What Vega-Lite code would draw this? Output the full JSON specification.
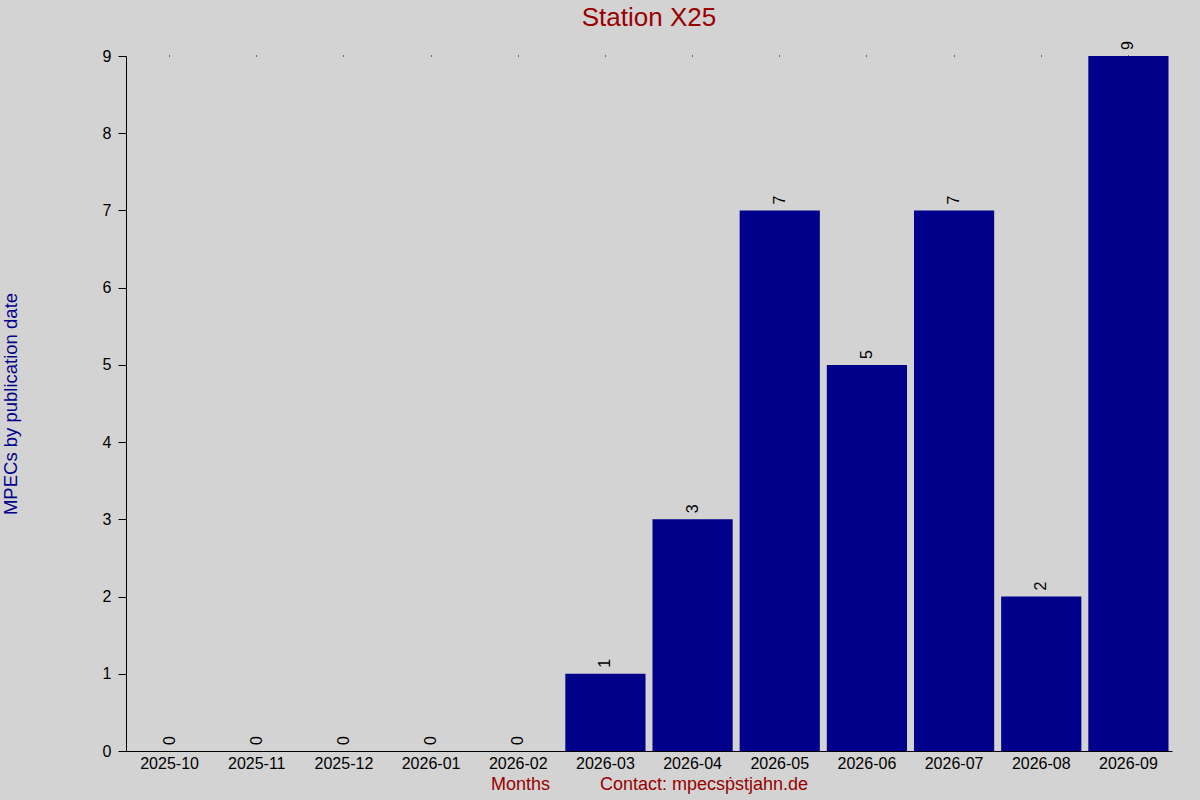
{
  "$schema": "https://vega.github.io/schema/vega-lite/v6.json",
  "autosize": "none",
  "width": 1046,
  "height": 695,
  "padding": {"left": 126, "top": 56, "right": 28, "bottom": 49},
  "background": "#d3d3d3",
  "config": {
    "font": "Liberation Sans",
    "view": {"stroke": null},
    "axis": {"domainColor": "#000000", "tickColor": "#000000", "labelColor": "#000000", "grid": false, "labelFont": "Liberation Sans", "titleFont": "Liberation Sans"}
  },
  "title": {"text": "Station X25", "fontSize": 26, "fontWeight": "normal", "color": "#990000", "anchor": "middle", "frame": "group", "offset": 10, "font": "Liberation Sans"},
  "data": {
    "values": [
      {"month": "2025-10", "count": 0},
      {"month": "2025-11", "count": 0},
      {"month": "2025-12", "count": 0},
      {"month": "2026-01", "count": 0},
      {"month": "2026-02", "count": 0},
      {"month": "2026-03", "count": 1},
      {"month": "2026-04", "count": 3},
      {"month": "2026-05", "count": 7},
      {"month": "2026-06", "count": 5},
      {"month": "2026-07", "count": 7},
      {"month": "2026-08", "count": 2},
      {"month": "2026-09", "count": 9}
    ]
  },
  "layer": [
    {
      "mark": {"type": "bar", "color": "#00008B"},
      "encoding": {
        "x": {
          "field": "month", "type": "ordinal", "sort": null,
          "scale": {"paddingInner": 0.08, "paddingOuter": 0.04},
          "axis": {
            "orient": "bottom", "ticks": false, "labelPadding": 4, "labelFontSize": 16, "labelAngle": 0,
            "title": "Months\u00a0\u00a0\u00a0\u00a0\u00a0\u00a0\u00a0\u00a0\u00a0\u00a0Contact: mpecs\u1e57stjahn.de",
            "titleFontSize": 18, "titleColor": "#990000", "titleFontWeight": "normal", "titlePadding": 4
          }
        },
        "y": {
          "field": "count", "type": "quantitative",
          "scale": {"domain": [0, 9], "nice": false},
          "axis": {
            "values": [0, 1, 2, 3, 4, 5, 6, 7, 8, 9], "format": "d",
            "tickSize": 8, "labelPadding": 7, "labelFontSize": 16,
            "title": "MPECs by publication date", "titleFontSize": 18.5, "titleColor": "#00008B", "titleFontWeight": "normal",
            "titleX": -116, "titleY": 347.5, "titleAngle": -90, "titleAlign": "center", "titleBaseline": "middle"
          }
        }
      }
    },
    {
      "mark": {"type": "text", "angle": -90, "align": "left", "baseline": "middle", "dx": 6, "fontSize": 16, "color": "#000000"},
      "encoding": {
        "x": {
          "field": "month", "type": "ordinal", "sort": null,
          "axis": {"orient": "top", "labels": false, "domain": false, "ticks": true, "tickSize": 1, "title": null}
        },
        "y": {"field": "count", "type": "quantitative"},
        "text": {"field": "count", "type": "quantitative"}
      }
    }
  ],
  "resolve": {"axis": {"x": "independent"}}
}
